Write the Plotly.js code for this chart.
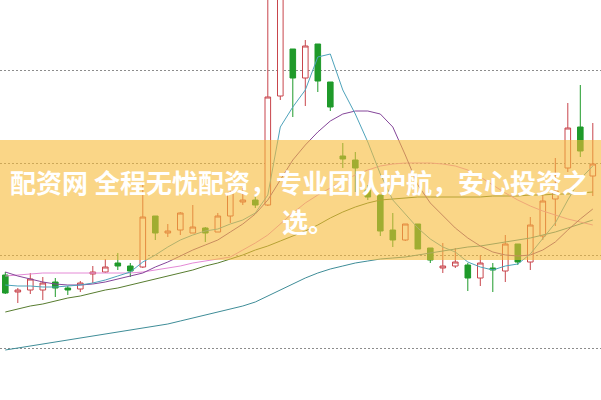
<!DOCTYPE html>
<html><head><meta charset="utf-8">
<script src="https://cdn.plot.ly/plotly-3.0.1.min.js"></script>
<style>html,body{margin:0;padding:0;background:#fff}#chart{width:601px;height:400px}</style>
</head><body><div id="chart"></div>
<script>
// trading day index
const day = [1,2,3,4,5,6,7,8,9,10,11,12,13,14,15,16,17,18,19,20,21,22,23,24,25,26,27,28,29,30,31,32,33,34,35,36,37,38,39,40,41,42,43,44,45,46,47,48];

const open  = [12.5,10.8,11.0,11.0,11.8,11.2,11.1,12.6,12.8,13.7,13.4,13.3,18.4,16.7,17.0,16.7,17.2,16.8,18.4,19.8,20.0,19.5,30.4,35.1,32.2,35.6,31.8,24.4,24.0,21.0,20.5,17.0,16.0,17.6,15.2,13.2,13.4,13.5,12.2,13.2,12.9,15.6,13.8,16.4,20.1,23.2,27.3,22.4];
const high  = [12.8,11.2,12.7,12.3,12.2,11.4,11.9,13.4,14.1,14.7,13.7,21.8,18.4,17.6,18.8,19.5,17.3,18.7,21.5,21.2,20.5,42.5,43.0,35.1,36.0,35.6,31.8,25.7,24.8,21.5,20.5,18.7,17.6,17.6,15.2,15.7,15.2,13.7,14.5,13.7,16.5,15.6,18.3,20.5,24.2,29.7,31.5,27.7];
const low   = [10.6,9.7,10.6,10.0,10.3,10.5,10.8,11.7,12.7,13.0,12.3,13.2,16.0,16.3,16.5,16.7,15.8,16.8,17.7,19.5,19.2,19.4,30.0,28.3,29.4,30.8,28.9,23.2,20.8,20.0,16.4,15.3,15.9,15.1,13.7,12.7,13.2,10.9,11.4,10.8,11.8,13.5,13.0,16.0,17.4,22.8,24.3,20.4];
const close = [10.7,11.0,12.1,11.7,11.2,11.0,11.7,12.8,13.3,13.4,12.9,18.3,16.7,16.9,18.7,17.3,16.7,18.4,20.7,20.0,19.5,30.3,41.5,32.2,35.4,31.9,29.3,24.1,23.2,20.3,16.9,16.0,17.6,15.1,14.0,13.4,13.8,12.2,13.7,13.0,15.6,13.8,17.5,19.9,20.9,27.2,24.9,23.6];

// moving averages
const ma5  = [11.5,11.4,11.4,11.3,11.3,11.4,11.5,11.7,12.0,12.4,12.8,13.8,14.5,15.3,16.0,16.5,16.9,17.1,17.6,18.0,18.7,20.5,27.3,29.3,31.0,34.3,34.6,31.0,28.6,25.8,22.6,20.0,18.6,17.2,16.1,15.3,14.8,13.8,13.3,13.0,13.4,13.6,14.6,16.1,17.7,20.0,22.1,23.4];
const ma10 = [12.8,12.4,12.1,11.8,11.6,11.5,11.5,11.6,11.8,12.1,12.4,12.7,13.3,13.8,14.4,15.0,15.5,16.0,16.8,17.6,18.6,20.0,22.0,24.0,25.5,26.8,27.9,28.6,28.9,28.9,28.6,27.3,24.5,21.5,19.7,18.5,17.2,16.2,15.4,14.8,14.5,14.4,14.5,15.0,15.8,17.0,18.1,19.1];
const ma20 = [12.4,12.5,12.6,12.7,12.7,12.7,12.7,12.7,12.7,12.7,12.7,12.8,13.0,13.2,13.4,13.7,13.9,14.1,14.3,15.0,15.7,16.5,17.6,18.7,19.7,20.5,21.2,21.9,22.5,23.0,23.4,23.6,23.7,23.7,23.7,23.6,23.4,23.0,22.3,21.5,20.7,20.0,19.4,18.9,18.5,18.1,17.8,17.5];
const ma30 = [8.8,9.1,9.4,9.6,9.9,10.2,10.4,10.7,11.0,11.2,11.5,11.8,12.1,12.4,12.7,13.0,13.4,13.7,14.1,14.5,15.0,15.4,15.9,16.4,16.9,17.5,18.2,18.8,19.3,19.7,20.0,20.1,20.2,20.3,20.3,20.3,20.3,20.3,20.3,20.4,20.4,20.4,20.5,20.5,20.6,20.6,20.7,20.8];
const ma60 = [5.0,5.2,5.4,5.6,5.8,6.0,6.2,6.4,6.6,6.8,7.0,7.2,7.4,7.6,7.9,8.2,8.5,8.8,9.1,9.4,9.8,10.4,11.0,11.6,12.2,12.7,13.1,13.4,13.7,13.9,14.1,14.2,14.3,14.5,14.7,14.9,15.1,15.3,15.4,15.6,15.8,16.0,16.2,16.5,16.8,17.2,17.6,18.0];

const gridLevels = [5.18, 14.43, 23.68, 32.93];
const bannerLine1 = '配资网 全程无忧配资，专业团队护航，安心投资之';
const bannerLine2 = '选。';

function maTrace(y, color) {
  return {type:'scatter', mode:'lines', x:day, y:y, line:{color:color, width:1}, hoverinfo:'skip', showlegend:false};
}

const data = [
  {type:'candlestick', x:day, open:open, high:high, low:low, close:close,
   increasing:{line:{color:'#c8454c', width:1}, fillcolor:'#ffffff'},
   decreasing:{line:{color:'#1f9a2a', width:1}, fillcolor:'#1f9a2a'},
   whiskerwidth:0, hoverinfo:'skip', showlegend:false},
  maTrace(ma60, '#3f8d98'),
  maTrace(ma30, '#587d30'),
  maTrace(ma20, '#e48ad6'),
  maTrace(ma10, '#85469a'),
  maTrace(ma5,  '#4ea3bb')
];

const layout = {
  width:601, height:400,
  margin:{l:0, r:0, t:0, b:0, pad:0},
  paper_bgcolor:'#ffffff', plot_bgcolor:'#ffffff',
  showlegend:false,
  boxgap:0.36,
  xaxis:{range:[0.576, 48.656], showgrid:false, zeroline:false, showticklabels:false, ticks:'', showline:false, rangeslider:{visible:false}, fixedrange:true},
  yaxis:{range:[0, 40], tickvals:gridLevels, showticklabels:false, ticks:'', gridcolor:'#8c8c8c', griddash:'2px,2px', gridwidth:1, zeroline:false, showline:false, fixedrange:true},
  shapes:[{type:'rect', xref:'paper', yref:'paper', x0:0, x1:1, y0:0.35, y1:0.65, fillcolor:'rgba(247,187,55,0.6)', line:{width:0}, layer:'above'}],
  annotations:[
    {text:bannerLine1, xref:'paper', yref:'paper', x:0.498, y:(400-181)/400, showarrow:false, xanchor:'center', yanchor:'middle',
     font:{family:'Noto Sans CJK SC', size:26, color:'#ffffff', weight:700}},
    {text:bannerLine2, xref:'paper', yref:'paper', x:0.512, y:(400-220)/400, showarrow:false, xanchor:'center', yanchor:'middle',
     font:{family:'Noto Sans CJK SC', size:26, color:'#ffffff', weight:700}}
  ]
};

Plotly.newPlot('chart', data, layout, {staticPlot:true, displayModeBar:false});
</script>
</body></html>
